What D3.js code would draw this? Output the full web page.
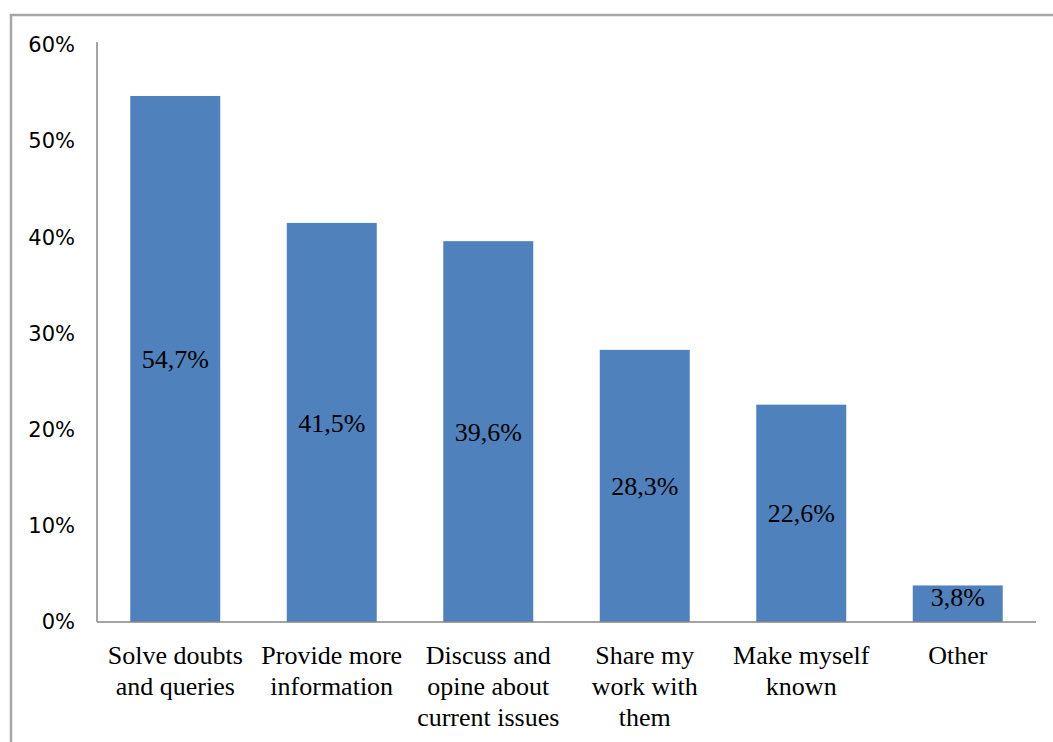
<!DOCTYPE html>
<html>
<head>
<meta charset="utf-8">
<script src="https://cdn.jsdelivr.net/npm/d3@7.9.0/dist/d3.min.js"></script>
<style>
  body { margin: 0; background: #fff; }
  svg { display: block; }
</style>
</head>
<body>
<div id="chart"></div>
<script>
const categories = [
  ['Solve doubts', 'and queries'],
  ['Provide more', 'information'],
  ['Discuss and', 'opine about', 'current issues'],
  ['Share my', 'work with', 'them'],
  ['Make myself', 'known'],
  ['Other']
];
const values = [54.7, 41.5, 39.6, 28.3, 22.6, 3.8];
const yTicks = [0, 10, 20, 30, 40, 50, 60];

const width = 1053, height = 742;
const plot = { left: 97, right: 1036, top: 45, bottom: 622 };

const svg = d3.select('#chart').append('svg')
  .attr('width', width)
  .attr('height', height);

// outer frame (only top and left edges are visible)
svg.append('path')
  .attr('d', `M11,${height} L11,15 L${width},15`)
  .attr('fill', 'none')
  .attr('stroke', '#a6a6a6')
  .attr('stroke-width', 2.5);

const x = d3.scaleBand()
  .domain(d3.range(categories.length))
  .range([plot.left, plot.right])
  .paddingInner(0.425)
  .paddingOuter(0.2125);

const y = d3.scaleLinear()
  .domain([0, 60])
  .range([plot.bottom, plot.top]);

// y axis
const yAxis = svg.append('g')
  .attr('transform', `translate(${plot.left},0)`)
  .call(d3.axisLeft(y).tickValues(yTicks).tickSize(0).tickPadding(22)
    .tickFormat(d => d + '%'));
yAxis.select('.domain').remove();
yAxis.selectAll('text')
  .attr('font-family', 'DejaVu Sans, Verdana, sans-serif')
  .attr('font-size', 21)
  .attr('fill', '#000');

svg.append('line')
  .attr('x1', plot.left).attr('x2', plot.left)
  .attr('y1', 42).attr('y2', plot.bottom)
  .attr('stroke', '#868686').attr('stroke-width', 1.5);

// bars
svg.append('g').selectAll('rect')
  .data(values)
  .join('rect')
  .attr('x', (d, i) => x(i))
  .attr('y', d => y(d))
  .attr('width', x.bandwidth())
  .attr('height', d => y(0) - y(d))
  .attr('fill', '#4f81bd');

// baseline
svg.append('line')
  .attr('x1', plot.left).attr('x2', plot.right)
  .attr('y1', plot.bottom).attr('y2', plot.bottom)
  .attr('stroke', '#868686').attr('stroke-width', 1.5);

// data labels
svg.append('g').selectAll('text')
  .data(values)
  .join('text')
  .attr('x', (d, i) => x(i) + x.bandwidth() / 2)
  .attr('y', d => Math.min((y(d) + y(0)) / 2, y(0) - 25))
  .attr('dy', '0.35em')
  .attr('text-anchor', 'middle')
  .attr('font-family', 'Liberation Serif, Times New Roman, serif')
  .attr('font-size', 26)
  .attr('fill', '#000')
  .text(d => d.toFixed(1).replace('.', ',') + '%');

// category labels
const cat = svg.append('g').selectAll('text')
  .data(categories)
  .join('text')
  .attr('x', (d, i) => x(i) + x.bandwidth() / 2)
  .attr('y', 664)
  .attr('text-anchor', 'middle')
  .attr('font-family', 'Liberation Serif, Times New Roman, serif')
  .attr('font-size', 26)
  .attr('fill', '#000');

cat.selectAll('tspan')
  .data((d, i) => d.map(line => ({ line, i })))
  .join('tspan')
  .attr('x', d => x(d.i) + x.bandwidth() / 2)
  .attr('dy', (d, j) => j === 0 ? 0 : 31)
  .text(d => d.line);
</script>
</body>
</html>
